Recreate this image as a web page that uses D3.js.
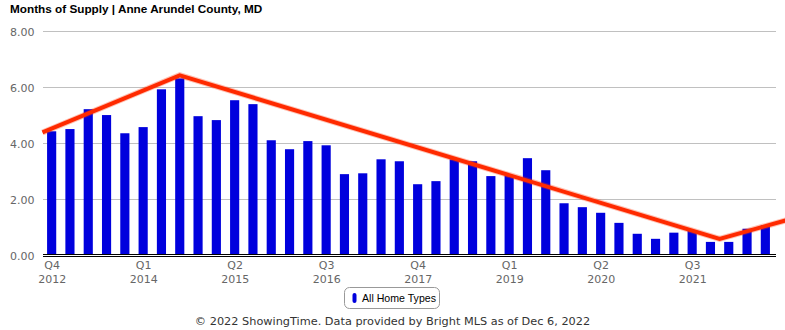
<!DOCTYPE html>
<html><head><meta charset="utf-8">
<script src="https://cdn.jsdelivr.net/npm/d3@7/dist/d3.min.js"></script>
<style>html,body{margin:0;padding:0;background:#fff;}svg{display:block;}</style>
</head><body>
<svg id="c" width="785" height="330"></svg>
<script>
const categories = [
 "Q4 2012","Q1 2013","Q2 2013","Q3 2013","Q4 2013",
 "Q1 2014","Q2 2014","Q3 2014","Q4 2014","Q1 2015",
 "Q2 2015","Q3 2015","Q4 2015","Q1 2016","Q2 2016",
 "Q3 2016","Q4 2016","Q1 2017","Q2 2017","Q3 2017",
 "Q4 2017","Q1 2018","Q2 2018","Q3 2018","Q4 2018",
 "Q1 2019","Q2 2019","Q3 2019","Q4 2019","Q1 2020",
 "Q2 2020","Q3 2020","Q4 2020","Q1 2021","Q2 2021",
 "Q3 2021","Q4 2021","Q1 2022","Q2 2022","Q3 2022"];
const values = [
 4.40,4.48,5.19,4.98,4.33,4.55,5.90,6.29,4.94,4.80,
 5.51,5.37,4.08,3.76,4.05,3.90,2.87,2.90,3.40,3.33,
 2.51,2.62,3.40,3.33,2.80,2.82,3.44,3.01,1.83,1.69,
 1.49,1.13,0.74,0.56,0.78,0.85,0.45,0.45,0.92,1.04];
const yTicks = [0,2,4,6,8];
const xTickEvery = 5;
const trendIdx = [-0.5, 7, 36.5, 40.3];
const trendVals = [4.36, 6.40, 0.56, 1.25];
const seriesName = "All Home Types";
const title = "Months of Supply | Anne Arundel County, MD";
const footer = "© 2022 ShowingTime. Data provided by Bright MLS as of Dec 6, 2022";

const svg = d3.select("#c");
const L = 42.5, R = 774.5;
const x = d3.scaleBand().domain(d3.range(values.length)).range([L, R]).paddingInner(0.5).paddingOuter(0.25);
const y = d3.scaleLinear().domain([0, 8]).range([254.5, 30.5]);
const xc = d3.scaleLinear().domain([0, values.length - 1])
  .range([x(0) + x.bandwidth()/2, x(values.length - 1) + x.bandwidth()/2]);

svg.append("text").attr("x", 10).attr("y", 13)
  .attr("font-family", "Liberation Sans, Arial, sans-serif").attr("font-weight", "bold")
  .attr("font-size", 11.75).attr("fill", "#000").text(title);

// grid
const yAxis = d3.axisLeft(y).tickValues(yTicks).tickSize(-(R - L + 1)).tickFormat(d3.format(".2f"));
const gy = svg.append("g").attr("transform", `translate(${L},0)`).call(yAxis);
gy.select(".domain").remove();
gy.selectAll(".tick line").attr("stroke", "#c0c0c0").attr("shape-rendering", "crispEdges");
gy.selectAll(".tick text").attr("x", -8).attr("dy", "0.45em")
  .attr("font-family", "DejaVu Sans, sans-serif").attr("font-size", 11).attr("fill", "#666");
gy.selectAll(".tick").filter(d => d === 0).select("line").remove();

// bars
svg.append("g").selectAll("rect").data(values).join("rect")
  .attr("x", (d, i) => x(i)).attr("width", x.bandwidth())
  .attr("y", d => y(d)).attr("height", d => y(0) - y(d))
  .attr("fill", "#0000dd");

// baseline
[254.5, 256.5].forEach(v => svg.append("line").attr("x1", L).attr("x2", R + 1).attr("y1", v).attr("y2", v)
  .attr("stroke", "#000").attr("stroke-width", 1).attr("shape-rendering", "crispEdges"));

// x labels
const xAxis = d3.axisBottom(xc).tickValues(d3.range(0, values.length, xTickEvery)).tickSize(0).tickFormat(() => "");
const gx = svg.append("g").attr("transform", "translate(0,257)").call(xAxis);
gx.select(".domain").remove();
gx.selectAll(".tick").each(function(d) {
  const parts = categories[d].split(" ");
  const t = d3.select(this).select("text").attr("y", 0).attr("dy", null)
    .attr("font-family", "DejaVu Sans, sans-serif").attr("font-size", 11).attr("fill", "#666");
  t.append("tspan").attr("x", 0).attr("y", 12).text(parts[0]);
  t.append("tspan").attr("x", 0).attr("y", 26).text(parts[1]);
});

// trend line
const tl = d3.line().x(d => xc(d[0])).y(d => y(d[1]));
const pts = trendIdx.map((v, i) => [v, trendVals[i]]);
svg.append("path").attr("d", tl(pts)).attr("fill", "none").attr("stroke", "#ff3300")
  .attr("stroke-width", 6).attr("stroke-opacity", 0.3).attr("stroke-linejoin", "miter");
svg.append("path").attr("d", tl(pts)).attr("fill", "none").attr("stroke", "#ff2a00")
  .attr("stroke-width", 4).attr("stroke-linejoin", "miter");

// legend
const lg = svg.append("g");
lg.append("rect").attr("x", 344.5).attr("y", 287.5).attr("width", 95).attr("height", 21).attr("rx", 5)
  .attr("fill", "#fff").attr("stroke", "#999");
lg.append("rect").attr("x", 352.5).attr("y", 293).attr("width", 4).attr("height", 10).attr("rx", 2).attr("fill", "#0000dd");
lg.append("text").attr("x", 362).attr("y", 302).attr("font-family", "Liberation Sans, Arial, sans-serif")
  .attr("font-size", 10.6).attr("fill", "#000").text(seriesName);

svg.append("text").attr("x", 392.5).attr("y", 325).attr("text-anchor", "middle")
  .attr("font-family", "DejaVu Sans, sans-serif").attr("font-size", 11.3).attr("fill", "#333").text(footer);
</script>
</body></html>
